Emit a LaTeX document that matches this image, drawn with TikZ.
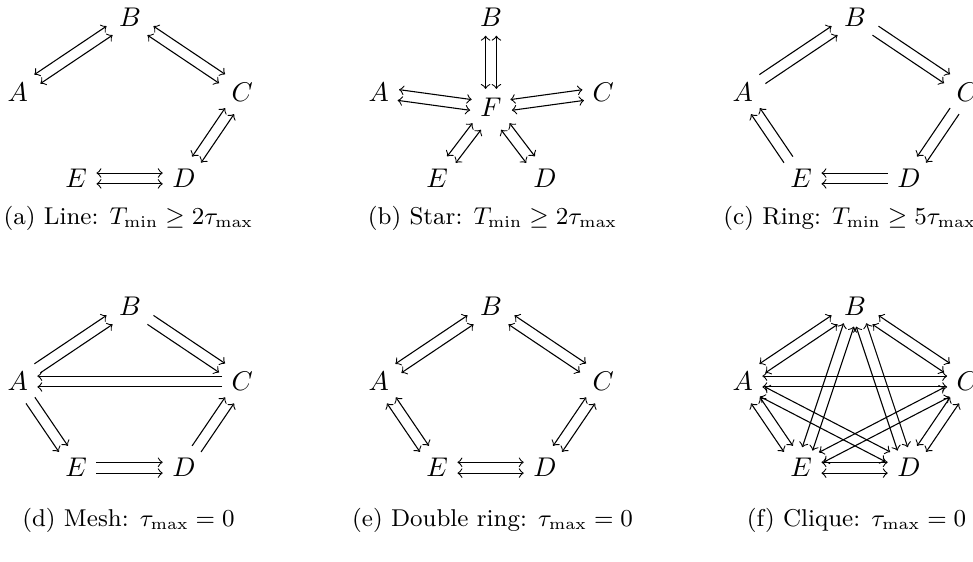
\documentclass[tikz,border=0pt]{standalone}
\usepackage{amsmath,amssymb}
\usepackage{tikz}
\usetikzlibrary{calc,positioning}

% five nodes of one topology, names prefixed by #1
\newcommand{\fivenodes}[1]{%
  \node (#1B) at (0,0) {$B$};
  \node (#1A) at (-1.46,-0.98) {$A$};
  \node (#1C) at (1.46,-0.98) {$C$};
  \node (#1E) at (-0.70,-2.10) {$E$};
  \node (#1D) at (0.70,-2.10) {$D$};
}
% two parallel arrows from #2 to #3
\newcommand{\twin}[3][<->]{%
  \draw[#1,transform canvas={shift={($(#2)!2pt!90:(#3)-(#2)$)}}] (#2) -- (#3);
  \draw[#1,transform canvas={shift={($(#2)!2pt!-90:(#3)-(#2)$)}}] (#2) -- (#3);
}

\begin{document}
\begin{tikzpicture}[
  subcap/.style={align=center,font=\small}
]
\useasboundingbox (0,0) rectangle (12.649,-7.293);

% (a) line
\begin{scope}[shift={(1.69,-0.22)}]
\fivenodes{a}
\twin{aA}{aB} \twin{aB}{aC} \twin{aC}{aD} \twin{aE}{aD}
\node[subcap] (capa) at (-0.02,-2.62) {(a) Line: $T_{\min} \geq 2\tau_{\max}$};
\end{scope}

% (b) star
\begin{scope}[shift={(6.383,-0.22)}]
\fivenodes{b}
\node (bF) at (0,-1.18) {$F$};
\twin{bB}{bF} \twin{bA}{bF} \twin{bF}{bC} \twin{bE}{bF} \twin{bF}{bD}
\node[subcap] (capb) at (0.02,-2.62) {(b) Star: $T_{\min} \geq 2\tau_{\max}$};
\end{scope}

% (c) ring
\begin{scope}[shift={(11.115,-0.22)}]
\fivenodes{c}
\twin[->]{cA}{cB} \twin[->]{cB}{cC} \twin[->]{cC}{cD}
\twin[->]{cD}{cE} \twin[->]{cE}{cA}
\node[subcap] (capc) at (-0.07,-2.62) {(c) Ring: $T_{\min} \geq 5\tau_{\max}$};
\end{scope}

% (d) mesh
\begin{scope}[shift={(1.69,-3.98)}]
\fivenodes{d}
\twin[->]{dA}{dB} \twin[->]{dB}{dC} \twin[->]{dC}{dA}
\twin[->]{dA}{dE} \twin[->]{dE}{dD} \twin[->]{dD}{dC}
\node[subcap] (capd) at (-0.02,-2.79) {(d) Mesh: $\tau_{\max} = 0$};
\end{scope}

% (e) double ring
\begin{scope}[shift={(6.383,-3.98)}]
\fivenodes{e}
\twin{eA}{eB} \twin{eB}{eC} \twin{eC}{eD} \twin{eE}{eD} \twin{eA}{eE}
\node[subcap] (cape) at (0.02,-2.79) {(e) Double ring: $\tau_{\max} = 0$};
\end{scope}

% (f) clique
\begin{scope}[shift={(11.115,-3.98)}]
\fivenodes{f}
\twin{fA}{fB} \twin{fA}{fC} \twin{fA}{fD} \twin{fA}{fE} \twin{fB}{fC}
\twin{fB}{fD} \twin{fB}{fE} \twin{fC}{fD} \twin{fC}{fE} \twin{fE}{fD}
\node[subcap] (capf) at (0.02,-2.79) {(f) Clique: $\tau_{\max} = 0$};
\end{scope}
\end{tikzpicture}
\end{document}
